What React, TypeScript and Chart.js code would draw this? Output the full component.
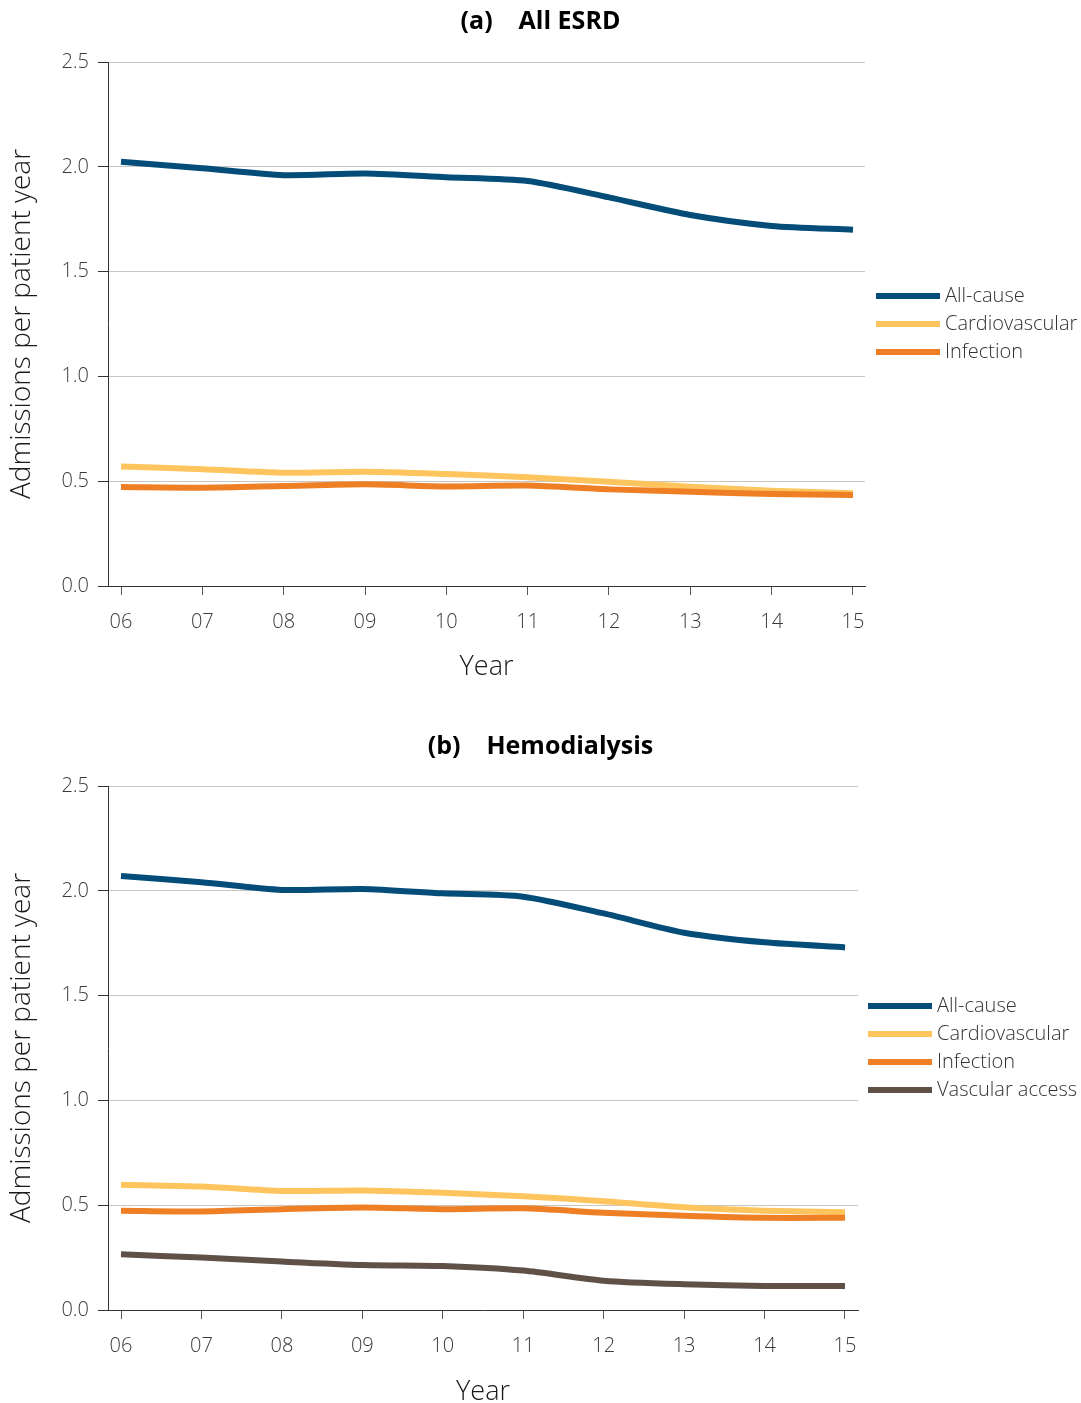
import React, { useEffect, useRef } from 'react';
import { Chart, registerables } from 'chart.js';

Chart.register(...registerables);

// ---- data ----
const years = [2006, 2007, 2008, 2009, 2010, 2011, 2012, 2013, 2014, 2015];
const yearLabels = ['06', '07', '08', '09', '10', '11', '12', '13', '14', '15'];

const esrdAllCause = [2.024, 1.993, 1.960, 1.968, 1.950, 1.932, 1.854, 1.770, 1.718, 1.700];
const esrdCardio = [0.570, 0.557, 0.540, 0.545, 0.534, 0.519, 0.497, 0.474, 0.455, 0.443];
const esrdInfection = [0.472, 0.469, 0.477, 0.485, 0.475, 0.479, 0.461, 0.450, 0.439, 0.434];

const hdAllCause = [2.071, 2.041, 2.004, 2.009, 1.988, 1.972, 1.892, 1.800, 1.754, 1.730];
const hdCardio = [0.598, 0.589, 0.568, 0.570, 0.559, 0.543, 0.519, 0.490, 0.474, 0.466];
const hdInfection = [0.474, 0.470, 0.481, 0.489, 0.481, 0.485, 0.464, 0.450, 0.440, 0.440];
const hdVascular = [0.266, 0.250, 0.231, 0.215, 0.210, 0.188, 0.140, 0.123, 0.115, 0.115];

const seriesNames = ['All-cause', 'Cardiovascular', 'Infection', 'Vascular access'];
const seriesColors = ['#044d78', '#fec55e', '#ee7f24', '#5f5148'];
const seriesOrder = [0, 2, 1, 3];

const FONT = '"Open Sans", "DejaVu Sans", sans-serif';

const sideLegend = {
  id: 'sideLegend',
  afterDraw(chart: any, _args: any, opts: any) {
    const { ctx, chartArea } = chart;
    const ds = chart.data.datasets;
    const n = ds.length;
    const cy = (chartArea.top + chartArea.bottom) / 2;
    const x0 = chartArea.right + opts.gap;
    ctx.save();
    ds.forEach((d: any, i: number) => {
      const y = cy + (i - (n - 1) / 2) * opts.rowHeight;
      ctx.fillStyle = d.borderColor;
      ctx.fillRect(x0, y - 3, opts.lineLength, 6);
      ctx.fillStyle = opts.color;
      ctx.font = `300 20px ${FONT}`;
      ctx.textBaseline = 'middle';
      ctx.textAlign = 'left';
      ctx.fillText(d.label, x0 + opts.lineLength + opts.textGap, y);
    });
    ctx.restore();
  },
};

type PanelProps = {
  title: string;
  series: number[][];
  top: number;
  height: number;
  titlePadTop: number;
  titlePadBottom: number;
  plotRight: number;
  plotBottom: number;
  yearPadBottom: number;
  xMin: number;
  xMax: number;
  legendGap: number;
};

function Panel(p: PanelProps) {
  const ref = useRef<HTMLCanvasElement | null>(null);
  useEffect(() => {
    if (!ref.current) return;
    const W = 1081;
    const datasets = p.series.map((vals, i) => ({
      label: seriesNames[i],
      data: vals.map((v, j) => ({ x: years[j], y: v })),
      borderColor: seriesColors[i],
      backgroundColor: seriesColors[i],
      borderWidth: 6,
      pointRadius: 0,
      tension: 0.25,
      fill: false,
      order: seriesOrder[i],
    }));
    const chart = new Chart(ref.current, {
      type: 'line',
      data: { datasets },
      plugins: [sideLegend],
      options: {
        animation: false,
        responsive: false,
        maintainAspectRatio: false,
        layout: { padding: 0 },
        plugins: {
          legend: { display: false },
          tooltip: { enabled: false },
          title: {
            display: true,
            text: p.title,
            color: '#000',
            font: { family: FONT, size: 25, weight: 'bold', lineHeight: 1.2 },
            padding: { top: p.titlePadTop, bottom: p.titlePadBottom },
          },
          sideLegend: { gap: p.legendGap, lineLength: 64, textGap: 5, rowHeight: 28, color: '#333' },
        } as any,
        scales: {
          x: {
            type: 'linear',
            min: p.xMin,
            max: p.xMax,
            afterBuildTicks: (s: any) => {
              s.ticks = years.map((v) => ({ value: v }));
            },
            afterFit: (s: any) => {
              s.height = p.height - p.plotBottom;
            },
            ticks: {
              autoSkip: false,
              maxRotation: 0,
              padding: 15,
              color: '#3a3a3a',
              font: { family: FONT, size: 20, weight: '300' },
              callback: (_v: any, i: number) => yearLabels[i],
            },
            grid: { drawOnChartArea: false, drawTicks: true, tickLength: 9, tickColor: '#555' },
            border: { color: '#333', width: 1 },
            title: {
              display: true,
              text: 'Year',
              color: '#1a1a1a',
              font: { family: FONT, size: 27, weight: '300', lineHeight: 1 },
              padding: { top: 0, bottom: p.yearPadBottom },
            },
          },
          y: {
            type: 'linear',
            min: 0,
            max: 2.5,
            afterFit: (s: any) => {
              s.width = 108;
            },
            ticks: {
              stepSize: 0.5,
              padding: 9,
              color: '#3a3a3a',
              font: { family: FONT, size: 20, weight: '300' },
              callback: (v: any) => Number(v).toFixed(1),
            },
            grid: { color: '#cbc5c1', lineWidth: 1, tickLength: 10, tickColor: '#333' },
            border: { color: '#333', width: 1 },
            title: {
              display: true,
              text: 'Admissions per patient year',
              color: '#1a1a1a',
              font: { family: FONT, size: 28, weight: '300', lineHeight: 1 },
              padding: { top: 8, bottom: 0 },
            },
          },
          spacer: {
            type: 'linear',
            position: 'right',
            display: true,
            afterFit: (s: any) => {
              s.width = W - p.plotRight;
            },
            ticks: { display: false },
            grid: { display: false },
            border: { display: false },
          },
        } as any,
      },
    });
    return () => chart.destroy();
  }, []);
  return (
    <canvas
      ref={ref}
      width={1081}
      height={p.height}
      style={{ position: 'absolute', left: 0, top: p.top, width: 1081, height: p.height, display: 'block' }}
    />
  );
}

export default function App() {
  return (
    <div
      style={{
        position: 'absolute',
        left: 0,
        top: 0,
        width: 1081,
        height: 1403,
        overflow: 'hidden',
        background: '#fff',
      }}
    >
      <Panel
        title="(a)    All ESRD"
        series={[esrdAllCause, esrdCardio, esrdInfection]}
        top={0}
        height={700}
        titlePadTop={7}
        titlePadBottom={25}
        plotRight={865}
        plotBottom={586}
        yearPadBottom={19.5}
        xMin={6 - 13 / 81.33 + 2000}
        xMax={15 + 12 / 81.33 + 2000}
        legendGap={11}
      />
      <Panel
        title="(b)    Hemodialysis"
        series={[hdAllCause, hdCardio, hdInfection, hdVascular]}
        top={700}
        height={703}
        titlePadTop={32}
        titlePadBottom={24}
        plotRight={858}
        plotBottom={610}
        yearPadBottom={-2.5}
        xMin={6 - 13 / 80.44 + 2000}
        xMax={15 + 13 / 80.44 + 2000}
        legendGap={10}
      />
    </div>
  );
}
